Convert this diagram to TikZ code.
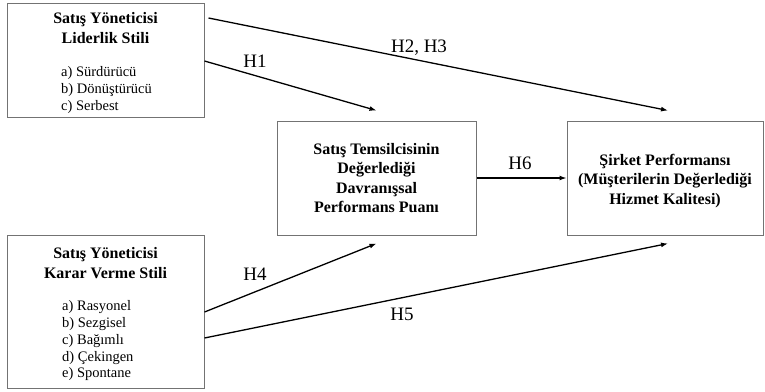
\documentclass[tikz,border=0pt]{standalone}
\usepackage{fontspec}
\setmainfont{Liberation Serif}
\usetikzlibrary{arrows.meta}
\begin{document}
\begin{tikzpicture}[x=1pt,y=-1pt,
  box/.style={draw=black!55,line width=1pt,fill=white,inner sep=0pt},
  title/.style={font=\bfseries\fontsize{16}{19.5}\selectfont,align=center},
  items/.style={font=\fontsize{14.5}{16.8}\selectfont,align=left,anchor=north west,inner sep=0pt},
  link/.style={line width=1.3pt,-{Latex[length=7pt,width=5pt]}},
  hyp/.style={font=\fontsize{19}{22}\selectfont,inner sep=0pt}]
\useasboundingbox (0,0) rectangle (765,391);
% boxes
\node[box,minimum width=197pt,minimum height=114pt] (b1) at (105.5,60) {};
\node[box,minimum width=197pt,minimum height=153pt] (b2) at (105.5,311.5) {};
\node[box,minimum width=199pt,minimum height=114pt,title] (b3) at (376.5,178)
  {Satış Temsilcisinin\\Değerlediği\\Davranışsal\\Performans Puanı};
\node[box,minimum width=196pt,minimum height=114pt] (b4) at (665,178) {};
\node[title] (t4) at (665,181)
  {Şirket Performansı\\(Müşterilerin Değerlediği\\Hizmet Kalitesi)};
% texts of the left boxes
\node[title] (t1) at (105.5,28) {Satış Yöneticisi\\Liderlik Stili};
\node[items] (l1) at (61,66.5) {a) Sürdürücü\\b) Dönüştürücü\\c) Serbest};
\node[title] (t2) at (105.5,263) {Satış Yöneticisi\\Karar Verme Stili};
\node[items] (l2) at (62,300.5) {a) Rasyonel\\b) Sezgisel\\c) Bağımlı\\d) Çekingen\\e) Spontane};
% connector ends
\coordinate (s23) at ([xshift=4pt,yshift=42pt]b1.east);
\coordinate (s1) at ([yshift=-1pt]b1.east);
\coordinate (s4) at ([yshift=-0.5pt]b2.east);
\coordinate (s5) at ([yshift=-26.5pt]b2.east);
\coordinate (e1) at ([yshift=10pt]b3.north);
\coordinate (e23) at ([xshift=3pt,yshift=10pt]b4.north);
\coordinate (e4) at ([yshift=-8pt]b3.south);
\coordinate (e5) at ([xshift=3pt,yshift=-8pt]b4.south);
% connectors
\draw[link] (s23) -- (e23);
\draw[link] (s1) -- (e1);
\draw[link] (s4) -- (e4);
\draw[link] (s5) -- (e5);
\draw[link] (b3.east) -- (b4.west);
% hypothesis labels
\node[hyp] (h1) at (255,61) {H1};
\node[hyp] (h23) at (419,48) {H2, H3};
\node[hyp] (h4) at (255,274) {H4};
\node[hyp] (h5) at (402,314) {H5};
\node[hyp] (h6) at (520,163) {H6};
\end{tikzpicture}
\end{document}
